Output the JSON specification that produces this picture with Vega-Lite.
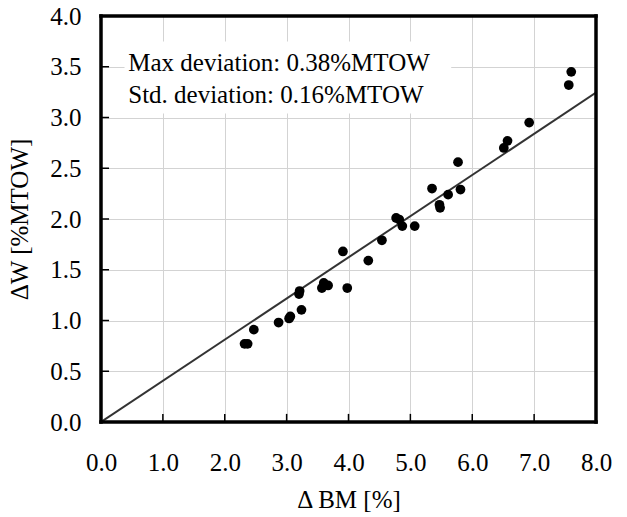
{
  "$schema": "https://vega.github.io/schema/vega-lite/v6.json",
  "width": 495,
  "height": 406,
  "autosize": {"type": "none"},
  "padding": {"left": 101, "top": 16, "right": 31, "bottom": 95},
  "background": "white",
  "config": {
    "font": "Liberation Serif",
    "view": {"stroke": null},
    "axis": {
      "labelFont": "Liberation Serif",
      "titleFont": "Liberation Serif",
      "labelFontSize": 25,
      "titleFontSize": 25,
      "labelColor": "black",
      "titleColor": "black",
      "titleFontWeight": "normal",
      "gridColor": "#d3d3d3",
      "gridWidth": 1,
      "domain": false,
      "ticks": false,
      "labelFlush": false
    }
  },
  "datasets": {
    "points": [
      {"bm": 2.32, "w": 0.77},
      {"bm": 2.37, "w": 0.77},
      {"bm": 2.47, "w": 0.91},
      {"bm": 2.87, "w": 0.98},
      {"bm": 3.04, "w": 1.02},
      {"bm": 3.06, "w": 1.04},
      {"bm": 3.21, "w": 1.29},
      {"bm": 3.2, "w": 1.26},
      {"bm": 3.24, "w": 1.105},
      {"bm": 3.57, "w": 1.32},
      {"bm": 3.6, "w": 1.37},
      {"bm": 3.67, "w": 1.345},
      {"bm": 3.91, "w": 1.68},
      {"bm": 3.98, "w": 1.32},
      {"bm": 4.32, "w": 1.59},
      {"bm": 4.54, "w": 1.79},
      {"bm": 4.77, "w": 2.01},
      {"bm": 4.82, "w": 1.995},
      {"bm": 4.87, "w": 1.93},
      {"bm": 5.07, "w": 1.93},
      {"bm": 5.35, "w": 2.3},
      {"bm": 5.47, "w": 2.14},
      {"bm": 5.48, "w": 2.11},
      {"bm": 5.61, "w": 2.24},
      {"bm": 5.77, "w": 2.56},
      {"bm": 5.81, "w": 2.29},
      {"bm": 6.51, "w": 2.7},
      {"bm": 6.57, "w": 2.77},
      {"bm": 6.92, "w": 2.95},
      {"bm": 7.56, "w": 3.32},
      {"bm": 7.6, "w": 3.45}
    ],
    "fit": [
      {"bm": 0, "w": 0},
      {"bm": 8, "w": 3.245}
    ],
    "xticks": [{"v": 1}, {"v": 2}, {"v": 3}, {"v": 4}, {"v": 5}, {"v": 6}, {"v": 7}],
    "yticks": [{"v": 0.5}, {"v": 1}, {"v": 1.5}, {"v": 2}, {"v": 2.5}, {"v": 3}, {"v": 3.5}],
    "vframe": [{"v": 0}, {"v": 8}],
    "hframe": [{"v": 0}, {"v": 4}]
  },
  "layer": [
    {
      "data": {"name": "points"},
      "mark": {"type": "point", "filled": true, "opacity": 0},
      "encoding": {
        "x": {
          "field": "bm", "type": "quantitative",
          "scale": {"domain": [0, 8], "nice": false, "zero": false},
          "axis": {"values": [0, 1, 2, 3, 4, 5, 6, 7, 8], "format": ".1f", "title": "Δ BM [%]", "labelPadding": 28, "titlePadding": 12}
        },
        "y": {
          "field": "w", "type": "quantitative",
          "scale": {"domain": [0, 4], "nice": false, "zero": false},
          "axis": {"values": [0, 0.5, 1, 1.5, 2, 2.5, 3, 3.5, 4], "format": ".1f", "title": "ΔW [%MTOW]", "labelPadding": 20, "titlePadding": 17}
        }
      }
    },
    {
      "data": {"values": [{}]},
      "mark": {"type": "rect", "color": "white"},
      "encoding": {
        "x": {"datum": 0.38, "type": "quantitative"},
        "x2": {"datum": 5.66},
        "y": {"datum": 3.75, "type": "quantitative"},
        "y2": {"datum": 3.04}
      }
    },
    {
      "data": {"name": "xticks"},
      "mark": {"type": "rule", "color": "black", "strokeWidth": 1.5},
      "encoding": {
        "x": {"field": "v", "type": "quantitative"},
        "y": {"datum": 0, "type": "quantitative"},
        "y2": {"datum": 0.08}
      }
    },
    {
      "data": {"name": "yticks"},
      "mark": {"type": "rule", "color": "black", "strokeWidth": 1.5},
      "encoding": {
        "y": {"field": "v", "type": "quantitative"},
        "x": {"datum": 0, "type": "quantitative"},
        "x2": {"datum": 0.13}
      }
    },
    {
      "data": {"values": [{"label": "Max deviation: 0.38%MTOW"}]},
      "mark": {"type": "text", "align": "left", "baseline": "middle", "fontSize": 25, "font": "Liberation Serif", "color": "black"},
      "encoding": {
        "x": {"datum": 0.44, "type": "quantitative"},
        "y": {"datum": 3.537, "type": "quantitative"},
        "text": {"field": "label"}
      }
    },
    {
      "data": {"values": [{"label": "Std. deviation: 0.16%MTOW"}]},
      "mark": {"type": "text", "align": "left", "baseline": "middle", "fontSize": 25, "font": "Liberation Serif", "color": "black"},
      "encoding": {
        "x": {"datum": 0.44, "type": "quantitative"},
        "y": {"datum": 3.22, "type": "quantitative"},
        "text": {"field": "label"}
      }
    },
    {
      "data": {"name": "fit"},
      "mark": {"type": "line", "color": "#333333", "strokeWidth": 2, "clip": true},
      "encoding": {
        "x": {"field": "bm", "type": "quantitative"},
        "y": {"field": "w", "type": "quantitative"}
      }
    },
    {
      "data": {"name": "points"},
      "mark": {"type": "circle", "color": "black", "opacity": 1, "size": 95},
      "encoding": {
        "x": {"field": "bm", "type": "quantitative"},
        "y": {"field": "w", "type": "quantitative"}
      }
    },
    {
      "data": {"name": "vframe"},
      "mark": {"type": "rule", "color": "black", "strokeWidth": 3.5, "strokeCap": "square"},
      "encoding": {
        "x": {"field": "v", "type": "quantitative"},
        "y": {"datum": 0, "type": "quantitative"},
        "y2": {"datum": 4}
      }
    },
    {
      "data": {"name": "hframe"},
      "mark": {"type": "rule", "color": "black", "strokeWidth": 3.5, "strokeCap": "square"},
      "encoding": {
        "y": {"field": "v", "type": "quantitative"},
        "x": {"datum": 0, "type": "quantitative"},
        "x2": {"datum": 8}
      }
    }
  ]
}
